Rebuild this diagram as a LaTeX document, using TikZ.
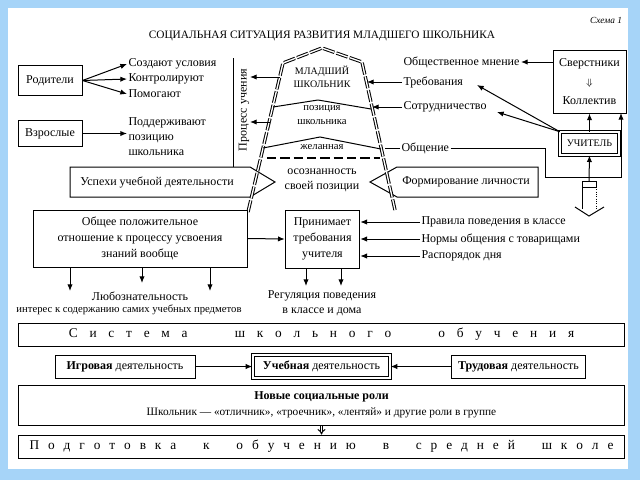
\documentclass[tikz,border=0pt]{standalone}
\usepackage{fontspec}
\setmainfont{Liberation Serif}
\usetikzlibrary{arrows.meta}

\tikzset{every picture/.style={line width=0.75pt}}
\tikzset{
  lbl/.style={inner sep=0.75pt, font=\fontsize{9}{11.25}\selectfont},
  box/.style={draw, fill=white, align=center, inner sep=1pt, font=\fontsize{9}{12}\selectfont},
  dbox/.style={box, double, double distance=1.2pt},
  arr/.style={-{Latex[length=5pt,width=4pt]}},
  pent/.style={double, double distance=1pt, dash pattern=on 9pt off 1.5pt},
  spaced/.style={box, font=\fontsize{10}{12}\selectfont},
}
\definecolor{slideblue}{RGB}{166,212,248}

\begin{document}
\begin{tikzpicture}[x=0.75pt,y=0.75pt,yscale=-1,xscale=1]
%Background [slide]
\fill[slideblue] (0,0) rectangle (640,480);
\fill[white] (8,8) rectangle (628,469);

% Title
\node (title) at (322,36) [lbl, font=\fontsize{8.5}{10}\selectfont] {СОЦИАЛЬНАЯ СИТУАЦИЯ РАЗВИТИЯ МЛАДШЕГО ШКОЛЬНИКА};
\node (schema) at (606,20) [lbl, font=\fontsize{7}{8}\selectfont\itshape] {Схема 1};

%Shape: Rectangle [Родители, Взрослые]
\node (rod) at (50,80.5) [box, minimum width=48pt, minimum height=23pt] {Родители};
\node (vzr) at (50,133.5) [box, minimum width=48pt, minimum height=19pt] {Взрослые};
% Text Node
\node (sozd) at (127,64) [lbl, anchor=west] {Создают условия};
\node (kontr) at (127,79) [lbl, anchor=west] {Контролируют};
\node (pomog) at (127,94) [lbl, anchor=west] {Помогают};
\node (podd) at (127,137) [lbl, anchor=west, align=left] {Поддерживают\\позицию\\школьника};
\draw[arr] (rod.east) -- (sozd.west);
\draw[arr] (rod.east) -- (kontr.west);
\draw[arr] (rod.east) -- (pomog.west);
\draw[arr] (vzr.east) -- (vzr.east -| podd.west);

%Straight Lines [Процесс учения]
\draw (233,58) -- (233,168);
\node (proc) at (244,110) [lbl, rotate=90] {Процесс учения};

%Shape: big arrows
\draw[fill=white] (70,167) -- (250,167) -- (275,182) -- (250,197) -- (70,197) -- cycle;
\draw[fill=white] (538,167) -- (397,167) -- (370,182) -- (397,197) -- (538,197) -- cycle;
\node (usp) at (157,182) [lbl] {Успехи учебной деятельности};
\node (form) at (466,182) [lbl] {Формирование личности};

%Shape: Pentagon [младший школьник]
\coordinate (pTL) at (283,63);
\coordinate (pTop) at (322,48);
\coordinate (pTR) at (362,62);
\coordinate (pBL) at (248,212);
\coordinate (pBR) at (395,210);
\draw[pent] (pBL) -- (pTL) -- (pTop) -- (pTR) -- (pBR);
\draw (273,107) -- (318,100) -- (371,109);
\draw (263,148) -- (320,137) -- (381,149);
\draw[line width=1.5pt, dash pattern=on 7pt off 3pt] (267,158) -- (380,158);
% Text Node
\node (mlad) at (322,77) [lbl, font=\fontsize{7.5}{10}\selectfont, align=center] {МЛАДШИЙ\\ШКОЛЬНИК};
\node (pozic) at (322,115) [lbl, font=\fontsize{8}{11}\selectfont, align=center] {позиция\\школьника};
\node (zhel) at (322,147) [lbl, font=\fontsize{8}{10}\selectfont] {желанная};
\node (osozn) at (322,180) [lbl, align=center] {осознанность\\своей позиции};

%Arrows to Процесс учения
\coordinate (pl1) at (280,77);
\coordinate (pl2) at (270,122);
\coordinate (proc1) at (250,77);
\coordinate (proc2) at (250,122);
\draw[arr] (pl1) -- (proc1);
\draw[arr] (pl2) -- (proc2);

% Text Node [right side]
\node (obmn) at (402,62) [lbl, anchor=west] {Общественное мнение};
\node (treb) at (402,82) [lbl, anchor=west] {Требования};
\node (sotr) at (402,107) [lbl, anchor=west] {Сотрудничество};
\node (obsch) at (400,148) [lbl, anchor=west] {Общение};
\coordinate (pr1) at (367,82);
\coordinate (pr2) at (372,107);
\coordinate (pr3) at (385,148);
\draw[arr] (treb.west) -- (pr1);
\draw[arr] (sotr.west) -- (pr2);
\draw (obsch.west) -- (pr3);

%Shape: Rectangle [Сверстники, Учитель]
\node (sver) at (589.5,81.5) [box, minimum width=54.75pt, minimum height=47.25pt] {Сверстники\\[2pt]{\scriptsize$\Downarrow$}\\[2pt]Коллектив};
\node (uch) at (589.5,143.5) [dbox, minimum width=44pt, minimum height=17pt, font=\fontsize{7.5}{9}\selectfont] {УЧИТЕЛЬ};
\draw[arr] (sver.west |- obmn.east) -- (obmn.east);
\draw[arr] (uch.north) -- (sver.south);
\coordinate (tr1) at (477,85);
\coordinate (so1) at (497,112);
\draw[arr] (uch.north west) -- (tr1);
\draw[arr] (uch.north west) -- (so1);
\coordinate (obj1) at (545,177);
\coordinate (obj2) at (621,113);
\draw[arr] (obsch.east) -| (obj1) -| (obj2);

%Shape: hollow arrow below Учитель
\coordinate (blk) at (589,181);
\draw (582,181) rectangle (596,187);
\draw (575,207) -- (589,216) -- (604,207);
\draw (582,187) -- (582,209);
\draw[densely dotted] (596,187) -- (596,209);
\draw[arr] (blk) -- (uch.south);

%Shape: Rectangle [middle row]
\node (obsh) at (140,238.5) [box, minimum width=160.5pt, minimum height=42.75pt] {Общее положительное\\отношение к процессу усвоения\\знаний вообще};
\node (prin) at (322.5,239) [box, minimum width=56pt, minimum height=43.5pt] {Принимает\\требования\\учителя};
\draw[arr] (obsh.east) -- (prin.west);
% Text Node
\node (prav) at (420,222) [lbl, anchor=west] {Правила поведения в классе};
\node (norm) at (420,239) [lbl, anchor=west] {Нормы общения с товарищами};
\node (rasp) at (420,256) [lbl, anchor=west] {Распорядок дня};
\draw[arr] (prav.west) -- (prav.west -| prin.east);
\draw[arr] (norm.west) -- (norm.west -| prin.east);
\draw[arr] (rasp.west) -- (rasp.west -| prin.east);

% Text Node [results]
\node (lyub) at (140,296) [lbl] {Любознательность};
\node (inter) at (129,310) [lbl, font=\fontsize{8}{9}\selectfont] {интерес к содержанию самих учебных предметов};
\node (regul) at (322,303) [lbl, align=center] {Регуляция поведения\\в классе и дома};
\coordinate (d1) at (70,291);
\coordinate (d2) at (142,283);
\coordinate (d3) at (210,291);
\coordinate (r1) at (306,286);
\coordinate (r2) at (341,286);
\draw[arr] (d1 |- obsh.south) -- (d1);
\draw[arr] (d2 |- obsh.south) -- (d2);
\draw[arr] (d3 |- obsh.south) -- (d3);
\draw[arr] (r1 |- prin.south) -- (r1);
\draw[arr] (r2 |- prin.south) -- (r2);

%Shape: Rectangle [bottom]
\node (sys) at (321.5,334.5) [spaced, minimum width=455pt, minimum height=17.25pt] {\makebox[379pt][s]{С\hfill и\hfill с\hfill т\hfill е\hfill м\hfill а\hfill\hfill\hfill\hfill ш\hfill к\hfill о\hfill л\hfill ь\hfill н\hfill о\hfill г\hfill о\hfill\hfill\hfill\hfill о\hfill б\hfill у\hfill ч\hfill е\hfill н\hfill и\hfill я}};
\node (igr) at (125,366.5) [box, minimum width=105pt, minimum height=17.25pt] {\textbf{Игровая} деятельность};
\node (ucheb) at (321.5,366.5) [dbox, minimum width=103pt, minimum height=17.25pt] {\textbf{Учебная} деятельность};
\node (trud) at (518.5,366.5) [box, minimum width=100pt, minimum height=17.25pt] {\textbf{Трудовая} деятельность};
\draw[arr] (igr.east) -- (ucheb.west);
\draw[arr] (trud.west) -- (ucheb.east);
\node (roles) at (321.5,405) [box, minimum width=455pt, minimum height=30pt, font=\fontsize{8.5}{12}\selectfont] {\textbf{\fontsize{9}{12}\selectfont Новые социальные роли}\\Школьник~--- «отличник», «троечник», «лентяй» и другие роли в группе};
\node (podg) at (321.5,446.5) [spaced, minimum width=455pt, minimum height=17.25pt] {\makebox[438pt][s]{П\hfill о\hfill д\hfill г\hfill о\hfill т\hfill о\hfill в\hfill к\hfill а\hfill\hfill\hfill к\hfill\hfill\hfill о\hfill б\hfill у\hfill ч\hfill е\hfill н\hfill и\hfill ю\hfill\hfill\hfill в\hfill\hfill\hfill с\hfill р\hfill е\hfill д\hfill н\hfill е\hfill й\hfill\hfill\hfill ш\hfill к\hfill о\hfill л\hfill е}};
\draw[double distance=1.2pt, -{Implies}] (roles.south) -- (podg.north);

\end{tikzpicture}
\end{document}
